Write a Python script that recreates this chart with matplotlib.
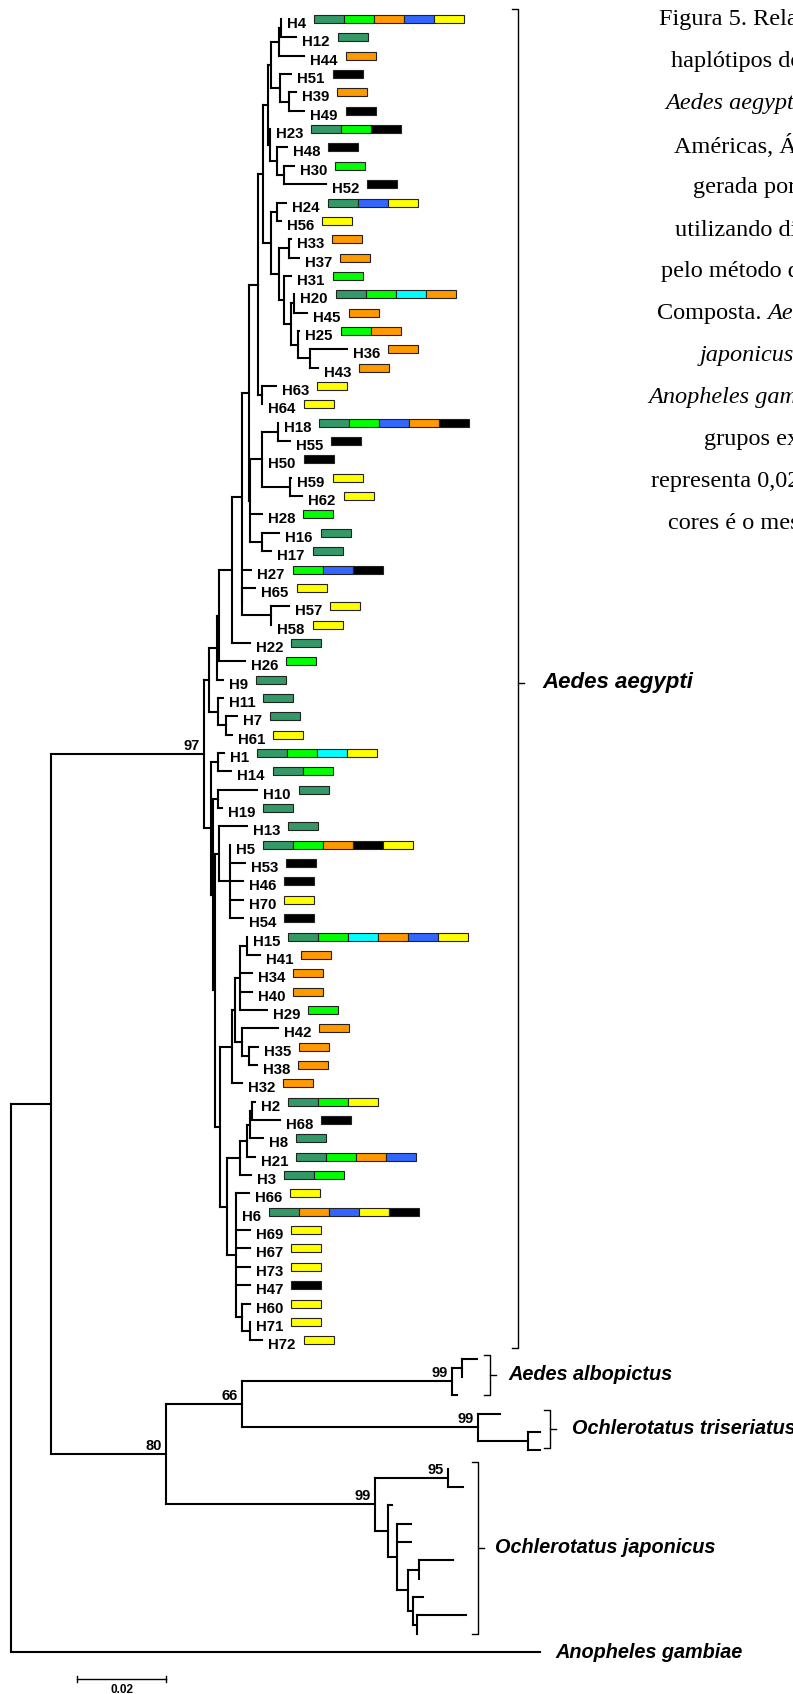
import matplotlib
matplotlib.use("Agg")
import matplotlib.pyplot as plt
from matplotlib.patches import Rectangle

# ---------------------------------------------------------------------------
# Tree data: Newick pieces, branch lengths in units of 1e-4 substitutions/site
# ---------------------------------------------------------------------------
LEN_UNIT = 1e-4

CLADE_H4 = "(((H4:0,H12:34):4,H44:56):18,(H51:25,(H39:16,H49:34):20):20)"
CLADE_H23 = "(H23:0,(H48:22,(H30:22,H52:94):16):16)"
CLADE_H24 = ("((H24:20,H56:9):13,((H33:4,H37:22):22,(H31:16,((H20:0,H45:29):7,"
             "(H25:2,(H36:81,H43:16):27):16):16):11):18)")
CLADE_H63 = "(H63:31,H64:0)"
CLADE_H18 = "((H18:0,H55:27):34,H50:0,(H59:4,H62:29):61)"
CLADE_H16 = "(H16:40,H17:22)"
CLADE_H65 = "(H65:29,(H57:40,H58:0):65)"
CLADE_H11 = "(H11:11,(H7:25,H61:13):18)"

CLADE_H1 = "(H1:13,H14:29)"
CLADE_H10 = "(H10:88,H19:9)"
CLADE_H13 = "(H13:63,(H5:0,H53:34,H46:29,H70:29,H54:29):25)"
CLADE_H15 = ("((((H15:0,H41:29):16,H34:27,H40:27,H29:61):11,"
             "(H42:81,(H35:20,H38:18):16):16):7,H32:22)")
CLADE_H2 = "((((H2:7,H68:63):4,H8:29):7,H21:18):16,H3:25)"
CLADE_H66 = "(H66:29,H6:0,H69:31,H67:31,H73:31,H47:31,(H60:18,(H71:0,H72:29):18):13)"

ALBOPICTUS = "((:34,:0):22,:11)99"
TRISERIATUS = "(:49,(:27,:27):112)99"
JAPONICUS = "((:0,:34)95:164,(:9,(:31,:31,((:76,:0):25,(:22,(:110,:0):9):11):25):20):29)99"

upper = (f"((((((((({CLADE_H4}:7,{CLADE_H23}:4):11,{CLADE_H24}:18):13,{CLADE_H63}:11):20,"
         f"({CLADE_H18}:27,H28:25,{CLADE_H16}:25):4):16,H27:22,{CLADE_H65}:2):22,H22:40):29,"
         f"H26:58):4,H9:13):18,{CLADE_H11}:20)")
lower = (f"({CLADE_H1}:16,({CLADE_H10}:11,({CLADE_H13}:9,({CLADE_H15}:27,"
         f"({CLADE_H2}:29,{CLADE_H66}:20):16):11):4):4)")
aegypti = f"({upper}:11,{lower}:16)97"
outgroups = f"(({ALBOPICTUS}:472,{TRISERIATUS}:530)66:171,{JAPONICUS}:470)80"
TREE = f"(({aegypti}:344,{outgroups}:258):90,:1189);"

# Regions in which each haplotype was found
HAPLOTYPES = ["H4", "H12", "H44", "H51", "H39", "H49", "H23", "H48", "H30", "H52",
              "H24", "H56", "H33", "H37", "H31", "H20", "H45", "H25", "H36", "H43",
              "H63", "H64", "H18", "H55", "H50", "H59", "H62", "H28", "H16", "H17",
              "H27", "H65", "H57", "H58", "H22", "H26", "H9", "H11", "H7", "H61",
              "H1", "H14", "H10", "H19", "H13", "H5", "H53", "H46", "H70", "H54",
              "H15", "H41", "H34", "H40", "H29", "H42", "H35", "H38", "H32", "H2",
              "H68", "H8", "H21", "H3", "H66", "H6", "H69", "H67", "H73", "H47",
              "H60", "H71", "H72"]
REGIONS = ["dg g o b y", "dg", "o", "k", "o", "k", "dg g k", "k", "g", "k",
           "dg b y", "y", "o", "o", "g", "dg g c o", "o", "g o", "o", "o",
           "y", "y", "dg g b o k", "k", "k", "y", "y", "g", "dg", "dg",
           "g b k", "y", "y", "y", "dg", "g", "dg", "dg", "dg", "y",
           "dg g c y", "dg g", "dg", "dg", "dg", "dg g o k y", "k", "k", "y", "k",
           "dg g c o b y", "o", "o", "o", "g", "o", "o", "o", "o", "dg g y",
           "k", "dg", "dg g o b", "dg g", "y", "dg o b y k", "y", "y", "y", "k",
           "y", "y", "y"]
REGION_COLORS = {"dg": "#339966", "g": "#00ff00", "o": "#ff9900", "b": "#3366ff",
                 "y": "#ffff00", "k": "#000000", "c": "#00ffff"}

GROUP_NAMES = ["Aedes aegypti", "Aedes albopictus", "Ochlerotatus triseriatus",
               "Ochlerotatus japonicus", "Anopheles gambiae"]
GROUP_SIZES = [73, 3, 3, 10, 1]

SCALE_BAR = 0.02

CAPTION = [
    [("Figura 5. Relações filogenéticas entre os", "normal")],
    [("haplótipos do gene mitocondrial de", "normal")],
    [("Aedes aegypti", "italic"), (" de populações das", "normal")],
    [("Américas, África e Ásia,", "normal")],
    [("gerada por Neighbor-Joining", "normal")],
    [("utilizando distância calculada", "normal")],
    [("pelo método de Máxima Verossimilhança", "normal")],
    [("Composta. ", "normal"), ("Aedes albopictus, Ochlerotatus", "italic")],
    [("japonicus", "italic"), (", ", "normal"), ("Ochlerotatus triseriatus", "italic")],
    [("Anopheles gambiae", "italic"), (" foram usados como", "normal")],
    [("grupos externos. A barra", "normal")],
    [("representa 0,02 substituições", "normal")],
    [("cores é o mesmo da Figura 4.", "normal")],
]
CAPTION_X = [659, 671, 665, 674, 693, 675, 661, 657, 700, 648, 704, 651, 668]


# ---------------------------------------------------------------------------
# Newick parsing and layout
# ---------------------------------------------------------------------------
def parse_newick(text):
    pos = 0

    def node():
        nonlocal pos
        children = []
        if text[pos] == "(":
            pos += 1
            children.append(node())
            while text[pos] == ",":
                pos += 1
                children.append(node())
            pos += 1
        start = pos
        while text[pos] not in ":,();":
            pos += 1
        label = text[start:pos]
        length = 0.0
        if text[pos] == ":":
            pos += 1
            start = pos
            while text[pos] not in ",();":
                pos += 1
            length = float(text[start:pos]) * LEN_UNIT
        return {"label": label, "len": length, "children": children}

    return node()


def layout(tree):
    leaves, internals = [], []

    def walk(n, x0):
        n["x"] = x0 + n["len"]
        if not n["children"]:
            n["y"] = len(leaves)
            leaves.append(n)
        else:
            for c in n["children"]:
                walk(c, n["x"])
            n["y"] = (n["children"][0]["y"] + n["children"][-1]["y"]) / 2
            internals.append(n)

    walk(tree, 0.0)
    return leaves, internals


root = parse_newick(TREE)
root["len"] = 0.0
leaves, internals = layout(root)

# ---------------------------------------------------------------------------
# Figure, pixel-based helpers
# ---------------------------------------------------------------------------
W, H, DPI = 793, 1694, 100
PX = 0.02 / 89          # substitutions per pixel
ROOT_PX, ROW0_PX, ROW_PX = 11, 19, 18.35

fig = plt.figure(figsize=(W / DPI, H / DPI), dpi=DPI)
ax = fig.add_axes([0, 0, 1, 1])
ax.set_xlim(-ROOT_PX * PX, (W - ROOT_PX) * PX)
ax.set_ylim((H - ROW0_PX) / ROW_PX, -ROW0_PX / ROW_PX)
ax.axis("off")


def dx(p):
    return p * PX


def dy(p):
    return p / ROW_PX


SANS = "Liberation Sans"
SERIF = "Liberation Serif"
LW = 1.5

# branches
for n in internals:
    ys = [c["y"] for c in n["children"]]
    ax.plot([n["x"], n["x"]], [min(ys), max(ys)], color="black", lw=LW,
            solid_capstyle="projecting")
    for c in n["children"]:
        if c["len"] > 0:
            ax.plot([n["x"], c["x"]], [c["y"], c["y"]], color="black", lw=LW,
                    solid_capstyle="projecting")

# bootstrap values
for n in internals:
    if n["label"]:
        ax.text(n["x"] - dx(4), n["y"] - dy(4), n["label"], ha="right", va="baseline",
                fontsize=10.5, fontweight="bold", family=SANS)

# haplotype labels and region bars
renderer = fig.canvas.get_renderer()
inv = ax.transData.inverted()
for leaf, name, regs in zip(leaves, HAPLOTYPES, REGIONS):
    t = ax.text(leaf["x"] + dx(6), leaf["y"] + dy(9), name, ha="left", va="baseline",
                fontsize=10.8, fontweight="bold", family=SANS)
    bb = t.get_window_extent(renderer)
    x0 = inv.transform((bb.x1, bb.y0))[0] + dx(8)
    for k, code in enumerate(regs.split()):
        ax.add_patch(Rectangle((x0 + k * dx(30), leaf["y"] - dy(4)), dx(30), dy(8),
                               facecolor=REGION_COLORS[code], edgecolor="#222222",
                               lw=0.8))

# group brackets
BRACKET_X = [518, 490, 550, 478, None]
BRACKET_PAD = [(10, 8), (4, 0), (4, -2), (7, 0), (0, 0)]
LABEL_GAP = [24, 18, 22, 17, 15]
LABEL_SIZE = [16, 14.3, 14.3, 14.3, 14.3]
LABEL_SHIFT = [4, 0, 0, 0, 0]
first = 0
for name, size, bx, (pt, pb), gap, fs, sh in zip(GROUP_NAMES, GROUP_SIZES, BRACKET_X,
                                                 BRACKET_PAD, LABEL_GAP, LABEL_SIZE,
                                                 LABEL_SHIFT):
    grp = leaves[first:first + size]
    first += size
    if bx is None:
        tip = grp[0]
        ax.text(tip["x"] + dx(gap), tip["y"], name, ha="left", va="center",
                fontsize=fs, fontweight="bold", style="italic", family=SANS)
        continue
    x = dx(bx - ROOT_PX)
    y0 = grp[0]["y"] - dy(pt)
    y1 = grp[-1]["y"] + dy(pb)
    ym = (y0 + y1) / 2 + dy(sh)
    ax.plot([x - dx(6), x, x, x - dx(6)], [y0, y0, y1, y1], color="black", lw=1.0)
    ax.plot([x, x + dx(6)], [ym, ym], color="black", lw=1.0)
    ax.text(x + dx(gap), ym, name, ha="left", va="center",
            fontsize=fs, fontweight="bold", style="italic", family=SANS)

# scale bar
sx0 = dx(77 - ROOT_PX)
sy = (1679 - ROW0_PX) / ROW_PX
ax.plot([sx0, sx0 + SCALE_BAR], [sy, sy], color="black", lw=1.0)
for xe in (sx0, sx0 + SCALE_BAR):
    ax.plot([xe, xe], [sy - dy(3), sy + dy(3)], color="black", lw=1.0)
ax.text(sx0 + SCALE_BAR / 2, sy + dy(5), f"{SCALE_BAR:.2f}", ha="center", va="top",
        fontsize=8.5, fontweight="bold", family=SANS)

# caption (runs off the right edge)
for i, (parts, x_px) in enumerate(zip(CAPTION, CAPTION_X)):
    y_fig = 1 - (20 + 42 * i) / H
    x_fig = x_px / W
    for text, style in parts:
        t = fig.text(x_fig, y_fig, text, ha="left", va="center", fontsize=17.5,
                     style=style, family=SERIF)
        bb = t.get_window_extent(renderer)
        x_fig = bb.x1 / W

fig.savefig("out.png", dpi=DPI)
